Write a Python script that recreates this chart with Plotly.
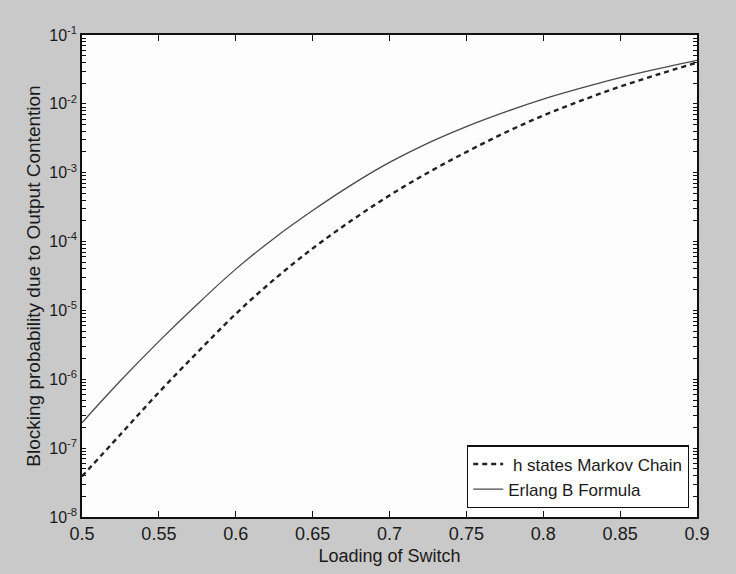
import plotly.graph_objects as go

loading = [0.50, 0.525, 0.55, 0.575, 0.60, 0.625, 0.65, 0.675, 0.70,
           0.725, 0.75, 0.775, 0.80, 0.825, 0.85, 0.875, 0.90]

markov_chain = [3.89e-8, 1.58e-7, 6.46e-7, 2.45e-6, 8.91e-6, 2.82e-5, 7.94e-5, 2.0e-4,
                4.68e-4, 1.0e-3, 2.0e-3, 3.8e-3, 6.76e-3, 1.12e-2, 1.78e-2, 2.69e-2, 3.98e-2]

erlang_b = [2.34e-7, 9.5e-7, 3.55e-6, 1.23e-5, 3.98e-5, 1.12e-4, 2.82e-4, 6.6e-4,
            1.41e-3, 2.69e-3, 4.68e-3, 7.59e-3, 1.17e-2, 1.70e-2, 2.40e-2, 3.24e-2, 4.27e-2]

x_ticks = [0.5, 0.55, 0.6, 0.65, 0.7, 0.75, 0.8, 0.85, 0.9]
x_ticktext = ["0.5", "0.55", "0.6", "0.65", "0.7", "0.75", "0.8", "0.85", "0.9"]
y_exponents = [-8, -7, -6, -5, -4, -3, -2, -1]

# decade ticks labelled, 2..9 within each decade unlabelled (log minor ticks)
y_tickvals, y_ticktext = [], []
for e in y_exponents:
    y_tickvals.append(10.0 ** e)
    y_ticktext.append("10<sup>%d</sup>" % e)
    if e < -1:
        for m in range(2, 10):
            y_tickvals.append(m * 10.0 ** e)
            y_ticktext.append("")

FONT = "Liberation Sans, Arial, sans-serif"

fig = go.Figure()
fig.add_trace(go.Scatter(
    x=loading, y=markov_chain, mode="lines", name=" h states Markov Chain",
    line=dict(color="#222222", width=2.4, dash="5px,4px", shape="spline"),
))
fig.add_trace(go.Scatter(
    x=loading, y=erlang_b, mode="lines", name="Erlang B Formula",
    line=dict(color="#4a4a4a", width=1.3, shape="spline"),
))

fig.update_layout(
    width=736, height=574,
    margin=dict(l=82, r=39, t=35, b=57),
    paper_bgcolor="#c9c9c9",
    plot_bgcolor="#fdfdfd",
    font=dict(family=FONT, color="#1a1a1a", size=18),
    showlegend=True,
    legend=dict(
        x=0.987, y=0.018, xanchor="right", yanchor="bottom",
        bgcolor="#ffffff", bordercolor="#111111", borderwidth=1.2,
        font=dict(size=17, family=FONT), tracegroupgap=0,
        itemwidth=30,
    ),
)

fig.update_xaxes(
    range=[0.5, 0.9], tickvals=x_ticks, ticktext=x_ticktext,
    ticks="inside", ticklen=6, tickcolor="#111111", tickwidth=1.4,
    showline=True, linecolor="#111111", linewidth=1.5, mirror="allticks",
    showgrid=False, zeroline=False, automargin=False,
    tickfont=dict(size=18),
    title=dict(text="Loading of Switch", font=dict(size=18), standoff=6),
)
fig.update_yaxes(
    type="log", range=[-8, -1],
    tickmode="array", tickvals=y_tickvals, ticktext=y_ticktext,
    ticks="inside", ticklen=4, tickcolor="#111111", tickwidth=1.2,
    showline=True, linecolor="#111111", linewidth=1.5, mirror="allticks",
    showgrid=False, zeroline=False, automargin=False,
    tickfont=dict(size=16),
    title=dict(text="Blocking probability due to Output Contention",
               font=dict(size=19), standoff=4),
)

fig.write_html("out.html")
